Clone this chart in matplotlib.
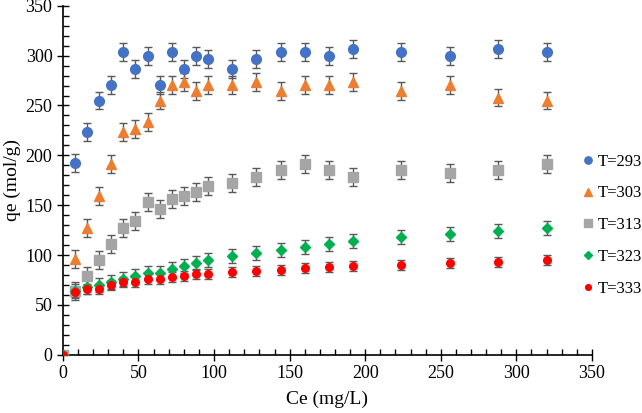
import matplotlib.pyplot as plt
from matplotlib.ticker import MultipleLocator

plt.rcParams['font.family'] = ['Liberation Serif', 'DejaVu Serif']

ce = [0, 8, 16, 24, 32, 40, 48, 56, 64, 72, 80, 88, 96, 112, 128, 144,
      160, 176, 192, 224, 256, 288, 320]

qe_293 = [0, 192, 223, 255, 271, 304, 287, 300, 271, 304, 287, 300, 297, 287,
          297, 304, 304, 300, 307, 304, 300, 307, 304]
qe_303 = [0, 96, 127, 159, 191, 223, 226, 233, 255, 271, 274, 265, 271, 271,
          274, 265, 271, 271, 274, 265, 271, 258, 255]
qe_313 = [0, 64, 79, 95, 111, 127, 134, 153, 146, 156, 159, 163, 169, 172,
          178, 185, 191, 185, 178, 185, 182, 185, 191]
qe_323 = [0, 64, 68, 70, 73, 76, 79, 82, 82, 86, 89, 92, 95, 99,
          102, 105, 108, 111, 114, 118, 121, 124, 127]
qe_333 = [0, 63, 66, 66, 70, 73, 73, 76, 76, 78, 79, 81, 81, 83,
          84, 85, 87, 88, 89, 90, 92, 93, 95]

labels = ['T=293', 'T=303', 'T=313', 'T=323', 'T=333']
errors = [9, 9, 9, 7, 5]

series = [qe_293, qe_303, qe_313, qe_323, qe_333]
colors = ['#4472C4', '#ED7D31', '#A5A5A5', '#00B050', '#FF0000']
markers = ['o', '^', 's', 'D', 'o']
sizes = [7, 7, 7, 5.5, 5.5]

fig = plt.figure(figsize=(6.42, 4.13), dpi=100)
ax = fig.add_axes([0.098, 0.141, 0.824, 0.845])

for y, lab, err, c, m, s in zip(series, labels, errors, colors, markers, sizes):
    yerr = [0 if v == 0 else err for v in y]
    ax.errorbar(ce, y, yerr=yerr, fmt=m, color=c, ms=s, mec=c,
                ecolor='#595959', elinewidth=1, capsize=3, capthick=1,
                label=lab, zorder=3)

ax.set_xlim(0, 350)
ax.set_ylim(0, 350)
ax.xaxis.set_major_locator(MultipleLocator(50))
ax.yaxis.set_major_locator(MultipleLocator(50))
ax.xaxis.set_minor_locator(MultipleLocator(10))
ax.yaxis.set_minor_locator(MultipleLocator(10))
ax.tick_params(which='major', direction='inout', length=8, width=1,
               labelsize=13, color='black')
ax.tick_params(which='minor', direction='in', length=4, width=1)

for side in ['top', 'right']:
    ax.spines[side].set_visible(False)
for side in ['left', 'bottom']:
    ax.spines[side].set_linewidth(1.2)

ax.set_xlabel('Ce (mg/L)', fontsize=14, labelpad=6)
ax.set_ylabel('qe (mol/g)', fontsize=14, labelpad=3)

handles, lbls = ax.get_legend_handles_labels()
handles = [h[0] for h in handles]
leg = fig.legend(handles, lbls, loc='upper left', bbox_to_anchor=(0.903, 0.628),
                 frameon=False, fontsize=12, handletextpad=0.1,
                 handlelength=1.0, labelspacing=0.95, markerscale=0.75,
                 borderpad=0, borderaxespad=0)

fig.savefig('out.png', dpi=100)
